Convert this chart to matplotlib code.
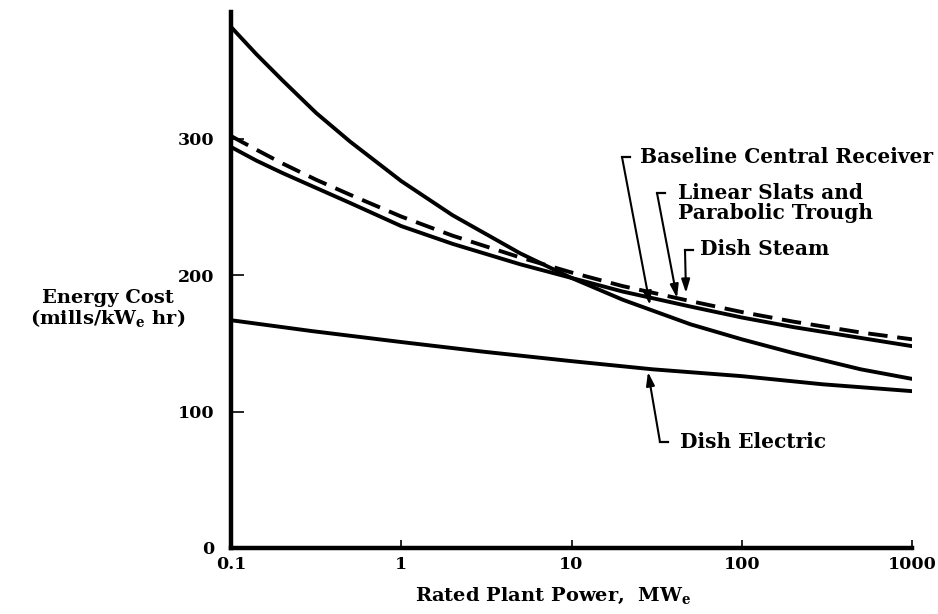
import matplotlib
matplotlib.use("Agg")
import matplotlib.pyplot as plt

# values (x in MWe, y in mills/kWe hr)
power = [0.1, 0.141, 0.2, 0.316, 0.5, 1, 2, 5, 10, 20, 50, 100, 200, 500, 1000]
receiver_y = [382, 362, 343, 319, 298, 269, 244, 216, 198, 182, 164, 153, 143, 131, 124]
slats_y = [294, 284, 275, 264, 253, 236, 223, 208, 198, 188, 177, 169, 162, 154, 148]
steam_y = [302, 292, 282, 270, 259, 243, 229, 213, 202, 192, 181, 173, 166, 158, 153]

electric_x = [0.1, 0.3, 1, 3, 10, 30, 100, 300, 1000]
electric_y = [167, 159, 151, 144, 137, 131, 126, 120, 115]

x_ticks = [0.1, 1, 10, 100, 1000]
x_tick_labels = ["0.1", "1", "10", "100", "1000"]
y_ticks = [0, 100, 200, 300]
y_tick_labels = ["0", "100", "200", "300"]

plt.rcParams["font.family"] = ["DejaVu Serif"]
plt.rcParams["font.weight"] = "bold"
plt.rcParams["mathtext.fontset"] = "dejavuserif"

fig = plt.figure(figsize=(9.38, 6.14), dpi=100)
ax = fig.add_axes([0.2463, 0.1075, 0.726, 0.873])

lw = 2.8
ax.plot(power, receiver_y, color="black", lw=lw, solid_capstyle="round")
ax.plot(power, slats_y, color="black", lw=lw, solid_capstyle="round")
ax.plot(power, steam_y, color="black", lw=lw, dashes=(5, 2.5))
ax.plot(electric_x, electric_y, color="black", lw=lw, solid_capstyle="round")

ax.set_xscale("log")
ax.set_xlim(0.1, 1000)
ax.set_ylim(0, 393)

for s in ["top", "right"]:
    ax.spines[s].set_visible(False)
for s in ["left", "bottom"]:
    ax.spines[s].set_linewidth(3.2)

ax.set_xticks(x_ticks)
ax.set_xticklabels(x_tick_labels)
ax.set_yticks(y_ticks)
ax.set_yticklabels(y_tick_labels)
ax.xaxis.set_minor_locator(matplotlib.ticker.NullLocator())
ax.tick_params(axis="x", direction="in", length=6, width=1.2, labelsize=12.5, pad=6)
ax.tick_params(axis="y", direction="in", length=9, width=1.2, labelsize=12.5, pad=12)


def px(x, y):
    # pixel position in the reference -> figure fraction
    return (x / 938, 1 - y / 614)


fig.text(*px(553, 596), r"Rated Plant Power,  MW$_\mathbf{e}$",
         ha="center", va="center", fontsize=14)
fig.text(*px(108, 309), "Energy Cost\n" + r"(mills/kW$_\mathbf{e}$ hr)",
         ha="center", va="center", fontsize=14, linespacing=0.95)


def callout(label, bracket_xy, target_xy, text_xy):
    bx, by = bracket_xy
    fig.add_artist(plt.Line2D([px(bx, by)[0], px(bx + 8, by)[0]],
                              [px(bx, by)[1], px(bx + 8, by)[1]],
                              color="black", lw=1.6))
    ax.annotate("", xy=px(*target_xy), xycoords="figure fraction",
                xytext=px(bx, by), textcoords="figure fraction",
                arrowprops=dict(arrowstyle="-|>,head_length=0.8,head_width=0.25",
                                color="black", lw=1.5, shrinkA=0, shrinkB=0))
    fig.text(*px(*text_xy), label, ha="left", va="center", fontsize=14.5,
             linespacing=1.0)


callout("Baseline Central Receiver", (622, 157), (650, 305), (640, 157))
callout("Linear Slats and\nParabolic Trough", (657, 193), (677, 298), (678, 203))
callout("Dish Steam", (685, 250), (686, 293), (700, 249))
callout("Dish Electric", (660, 442), (648, 372), (680, 442))

fig.savefig("out.png", dpi=100)
